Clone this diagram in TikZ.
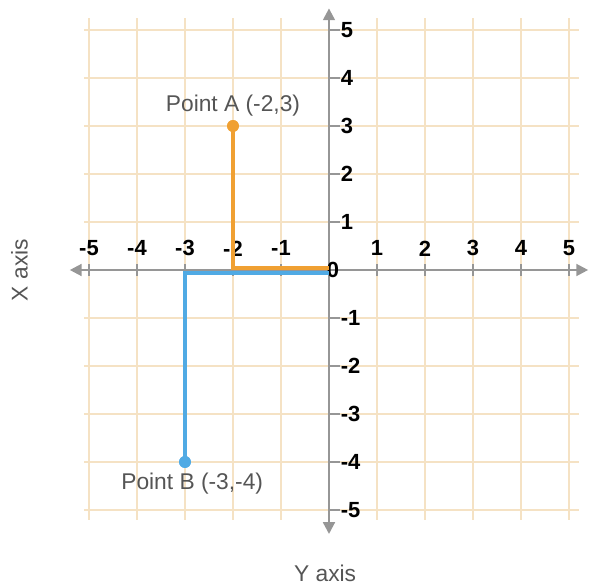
\documentclass[tikz,border=0pt]{standalone}
\usepackage{fontspec}
\setmainfont{Liberation Sans}
\usetikzlibrary{arrows.meta}
\definecolor{gridc}{RGB}{245,226,196}
\definecolor{axisc}{RGB}{150,150,150}
\definecolor{orangec}{RGB}{240,160,50}
\definecolor{bluec}{RGB}{80,170,228}
\definecolor{textc}{RGB}{85,85,85}
\tikzset{
  gridline/.style={gridc, line width=1.2pt},
  axisline/.style={axisc, line width=1.3pt, -{Triangle[length=7pt,width=7pt]}},
  tickmark/.style={axisc, line width=1pt},
  ticklabel/.style={font=\fontsize{13}{14}\selectfont\bfseries, text=black, inner sep=0pt},
  ptlabel/.style={font=\fontsize{13.5}{14}\selectfont, text=textc, inner sep=0pt},
  ptdot/.style={circle, fill=#1, inner sep=0pt, minimum size=7pt},
  legpath/.style={#1, line width=2pt}
}
\begin{document}
\begin{tikzpicture}[x=1cm,y=1cm]
\useasboundingbox (-6.854,-6.604) rectangle (5.417,5.625);
% grid
\foreach \i in {-5,...,5} {
  \draw[gridline] (-5.1,\i) -- (5.2,\i);
  \draw[gridline] (\i,-5.2) -- (\i,5.25);
}
% axes
\coordinate (xl) at (-5.4,0);
\coordinate (xr) at (5.4,0);
\coordinate (yt) at (0,5.45);
\coordinate (yb) at (0,-5.5);
\coordinate (O) at (0,0);
\draw[axisline] (O) -- (xr);
\draw[axisline] (O) -- (xl);
\draw[axisline] (O) -- (yt);
\draw[axisline] (O) -- (yb);
% ticks and labels
\foreach \i in {-5,...,-1,1,2,...,5} {
  \draw[tickmark] (0,\i) -- (0.22,\i);
  \node[ticklabel, anchor=west] (ty\i) at (0.24,\i) {\i};
  \draw[tickmark] (\i,-0.12) -- (\i,0.12);
  \node[ticklabel] (tx\i) at (\i,0.45) {\i};
}
\node[ticklabel, anchor=west] (t0) at (-0.05,0) {0};
% paths
\node[ptdot=orangec] (A) at (-2,3) {};
\node[ptdot=bluec] (B) at (-3,-4) {};
\coordinate (Oa) at (0,0.04);
\coordinate (Ob) at (0,-0.06);
\draw[legpath=orangec] (A.center) |- (Oa);
\draw[legpath=bluec] (B.center) |- (Ob);
\node[ptdot=orangec] (A2) at (A) {};
\node[ptdot=bluec] (B2) at (B) {};
% labels
\node[ptlabel] (LA) at (-2,3.42) {Point A (-2,3)};
\node[ptlabel] (LB) at (-2.85,-4.45) {Point B (-3,-4)};
\node[ptlabel, rotate=90] (XA) at (-6.45,0) {X axis};
\node[ptlabel] (YA) at (-0.08,-6.33) {Y axis};
\end{tikzpicture}
\end{document}
